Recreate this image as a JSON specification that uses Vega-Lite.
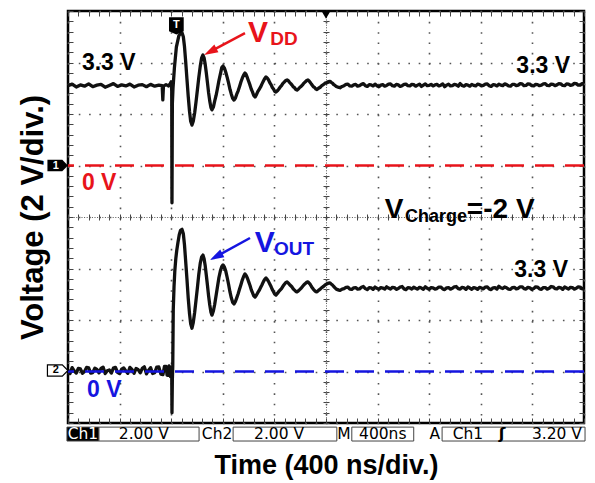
{
  "$schema": "https://vega.github.io/schema/vega-lite/v6.json",
  "width": 516,
  "height": 412,
  "autosize": {"type": "none"},
  "padding": {"left": 68, "top": 11, "right": 11, "bottom": 60},
  "background": "white",
  "config": {
    "view": {"stroke": "black", "strokeWidth": 2.5},
    "axis": {"labels": false, "ticks": false, "domain": false, "grid": false, "tickColor": "#444", "tickWidth": 1}
  },
  "resolve": {"scale": {"x": "independent", "y": "independent", "color": "independent", "fill": "independent", "size": "independent"}},
  "datasets": {
    "vdd": [
      {"t":-800,"v":3.1},{"t":-768,"v":3.16},{"t":-736,"v":3.05},{"t":-704,"v":3.13},{"t":-672,"v":3.08},{"t":-640,"v":3.17},{"t":-608,"v":3.06},{"t":-576,"v":3.12},{"t":-544,"v":3.15},{"t":-512,"v":3.04},{"t":-480,"v":3.11},{"t":-448,"v":3.18},{"t":-416,"v":3.07},{"t":-384,"v":3.13},{"t":-352,"v":3.09},{"t":-320,"v":3.16},{"t":-288,"v":3.05},{"t":-256,"v":3.12},{"t":-224,"v":3.14},{"t":-192,"v":3.06},{"t":-160,"v":3.15},{"t":-128,"v":3.08},{"t":-96,"v":3.12},{"t":-70,"v":3.1},{"t":-65,"v":2.55},{"t":-60,"v":3.08},{"t":-40,"v":3.14},{"t":-20,"v":3.09},{"t":-8,"v":3.18},{"t":0,"v":3.25},{"t":4,"v":2.9},{"t":6,"v":-1.45},{"t":9,"v":2.4},{"t":14,"v":3.0},{"t":25,"v":3.8},{"t":40,"v":4.6},{"t":60,"v":5.05},{"t":72,"v":5.13},{"t":84,"v":5.15},{"t":94,"v":5.0},{"t":103,"v":4.62},{"t":112,"v":4.05},{"t":122,"v":3.36},{"t":132,"v":2.68},{"t":142,"v":2.1},{"t":151,"v":1.72},{"t":161,"v":1.57},{"t":171,"v":1.72},{"t":182,"v":2.05},{"t":192,"v":2.45},{"t":203,"v":2.93},{"t":214,"v":3.42},{"t":225,"v":3.85},{"t":236,"v":4.18},{"t":246,"v":4.29},{"t":255,"v":4.18},{"t":263,"v":3.95},{"t":272,"v":3.6},{"t":281,"v":3.22},{"t":290,"v":2.82},{"t":299,"v":2.5},{"t":308,"v":2.25},{"t":316,"v":2.16},{"t":327,"v":2.27},{"t":337,"v":2.5},{"t":348,"v":2.72},{"t":359,"v":3.0},{"t":370,"v":3.3},{"t":381,"v":3.55},{"t":392,"v":3.8},{"t":402,"v":3.86},{"t":413,"v":3.78},{"t":423,"v":3.62},{"t":434,"v":3.42},{"t":445,"v":3.2},{"t":456,"v":2.95},{"t":466,"v":2.77},{"t":477,"v":2.6},{"t":487,"v":2.54},{"t":498,"v":2.62},{"t":508,"v":2.77},{"t":519,"v":2.9},{"t":530,"v":3.07},{"t":541,"v":3.25},{"t":551,"v":3.39},{"t":562,"v":3.52},{"t":572,"v":3.59},{"t":581,"v":3.53},{"t":591,"v":3.4},{"t":601,"v":3.26},{"t":611,"v":3.12},{"t":621,"v":2.96},{"t":630,"v":2.86},{"t":640,"v":2.72},{"t":650,"v":2.66},{"t":660,"v":2.74},{"t":671,"v":2.87},{"t":682,"v":2.96},{"t":693,"v":3.05},{"t":704,"v":3.17},{"t":714,"v":3.27},{"t":725,"v":3.38},{"t":735,"v":3.44},{"t":744,"v":3.4},{"t":754,"v":3.33},{"t":764,"v":3.22},{"t":774,"v":3.14},{"t":784,"v":3.03},{"t":793,"v":2.97},{"t":803,"v":2.88},{"t":812,"v":2.85},{"t":823,"v":2.9},{"t":833,"v":2.96},{"t":844,"v":3.04},{"t":855,"v":3.1},{"t":866,"v":3.19},{"t":876,"v":3.24},{"t":887,"v":3.3},{"t":898,"v":3.32},{"t":908,"v":3.29},{"t":917,"v":3.23},{"t":927,"v":3.18},{"t":937,"v":3.12},{"t":947,"v":3.05},{"t":956,"v":3.02},{"t":966,"v":2.95},{"t":975,"v":2.93},{"t":986,"v":2.97},{"t":996,"v":3.03},{"t":1007,"v":3.07},{"t":1018,"v":3.13},{"t":1029,"v":3.2},{"t":1040,"v":3.25},{"t":1050,"v":3.3},{"t":1060,"v":3.32},{"t":1069,"v":3.28},{"t":1078,"v":3.22},{"t":1087,"v":3.16},{"t":1095,"v":3.11},{"t":1104,"v":3.05},{"t":1113,"v":3.02},{"t":1122,"v":2.97},{"t":1130,"v":2.95},{"t":1142,"v":3.0},{"t":1155,"v":3.04},{"t":1167,"v":3.1},{"t":1180,"v":3.14},{"t":1193,"v":3.2},{"t":1206,"v":3.22},{"t":1218,"v":3.26},{"t":1231,"v":3.27},{"t":1240,"v":3.23},{"t":1250,"v":3.2},{"t":1260,"v":3.14},{"t":1270,"v":3.11},{"t":1280,"v":3.07},{"t":1290,"v":3.05},{"t":1300,"v":3.03},{"t":1309,"v":3.02},{"t":1325,"v":3.07},
      {"t":1340,"v":3.1},{"t":1355,"v":3.15},{"t":1370,"v":3.16},{"t":1385,"v":3.09},{"t":1400,"v":3.08},{"t":1415,"v":3.13},{"t":1430,"v":3.15},{"t":1445,"v":3.08},{"t":1460,"v":3.1},{"t":1475,"v":3.15},{"t":1490,"v":3.18},{"t":1505,"v":3.1},{"t":1520,"v":3.07},{"t":1535,"v":3.14},{"t":1550,"v":3.13},{"t":1565,"v":3.09},{"t":1580,"v":3.16},{"t":1595,"v":3.1},{"t":1610,"v":3.06},{"t":1625,"v":3.12},{"t":1640,"v":3.14},{"t":1655,"v":3.08},{"t":1670,"v":3.11},{"t":1685,"v":3.16},{"t":1700,"v":3.17},{"t":1715,"v":3.1},{"t":1730,"v":3.08},{"t":1745,"v":3.15},{"t":1760,"v":3.13},{"t":1775,"v":3.07},{"t":1790,"v":3.1},{"t":1805,"v":3.15},{"t":1820,"v":3.16},{"t":1835,"v":3.1},{"t":1850,"v":3.09},{"t":1865,"v":3.15},{"t":1880,"v":3.14},{"t":1895,"v":3.08},{"t":1910,"v":3.12},{"t":1925,"v":3.16},{"t":1940,"v":3.07},{"t":1955,"v":3.12},{"t":1970,"v":3.17},{"t":1985,"v":3.1},{"t":2000,"v":3.11},{"t":2015,"v":3.15},{"t":2030,"v":3.09},{"t":2045,"v":3.13},{"t":2060,"v":3.15},{"t":2075,"v":3.09},{"t":2090,"v":3.12},{"t":2105,"v":3.17},{"t":2120,"v":3.06},{"t":2135,"v":3.12},{"t":2150,"v":3.16},{"t":2165,"v":3.09},{"t":2180,"v":3.1},{"t":2195,"v":3.15},{"t":2210,"v":3.13},{"t":2225,"v":3.08},{"t":2240,"v":3.18},{"t":2255,"v":3.11},{"t":2270,"v":3.08},{"t":2285,"v":3.14},{"t":2300,"v":3.12},{"t":2315,"v":3.08},{"t":2330,"v":3.15},{"t":2345,"v":3.11},{"t":2360,"v":3.09},{"t":2375,"v":3.16},{"t":2390,"v":3.14},{"t":2405,"v":3.09},{"t":2420,"v":3.11},{"t":2435,"v":3.16},{"t":2450,"v":3.17},{"t":2465,"v":3.1},{"t":2480,"v":3.07},{"t":2495,"v":3.14},{"t":2510,"v":3.13},{"t":2525,"v":3.09},{"t":2540,"v":3.16},{"t":2555,"v":3.12},{"t":2570,"v":3.1},{"t":2585,"v":3.17},{"t":2600,"v":3.14},{"t":2615,"v":3.09},{"t":2630,"v":3.08},{"t":2645,"v":3.15},{"t":2660,"v":3.15},{"t":2675,"v":3.1},{"t":2690,"v":3.12},{"t":2705,"v":3.18},{"t":2720,"v":3.17},{"t":2735,"v":3.1},{"t":2750,"v":3.11},{"t":2765,"v":3.17},{"t":2780,"v":3.16},{"t":2795,"v":3.1},{"t":2810,"v":3.09},{"t":2825,"v":3.15},{"t":2840,"v":3.14},{"t":2855,"v":3.1},{"t":2870,"v":3.12},{"t":2885,"v":3.17},{"t":2900,"v":3.18},{"t":2915,"v":3.11},{"t":2930,"v":3.1},{"t":2945,"v":3.16},{"t":2960,"v":3.15},{"t":2975,"v":3.1},{"t":2990,"v":3.13},{"t":3005,"v":3.18},{"t":3020,"v":3.17},{"t":3035,"v":3.11},{"t":3050,"v":3.1},{"t":3065,"v":3.17},{"t":3080,"v":3.16},{"t":3095,"v":3.11},{"t":3110,"v":3.13},{"t":3125,"v":3.19},{"t":3140,"v":3.18},{"t":3155,"v":3.12},{"t":3170,"v":3.12},{"t":3185,"v":3.18},{"t":3200,"v":3.15}
    ],
    "vout": [
      {"t":-800,"v":0.05},{"t":-784,"v":-0.08},{"t":-768,"v":0.15},{"t":-752,"v":0.02},{"t":-736,"v":-0.06},{"t":-720,"v":0.12},{"t":-704,"v":0.1},{"t":-688,"v":-0.07},{"t":-672,"v":0.0},{"t":-656,"v":0.16},{"t":-640,"v":0.14},{"t":-624,"v":-0.06},{"t":-608,"v":-0.04},{"t":-592,"v":0.13},{"t":-576,"v":0.08},{"t":-560,"v":-0.05},{"t":-544,"v":0.12},{"t":-528,"v":0.17},{"t":-512,"v":-0.08},{"t":-496,"v":0.03},{"t":-480,"v":0.06},{"t":-464,"v":-0.06},{"t":-448,"v":0.13},{"t":-432,"v":0.16},{"t":-416,"v":-0.03},{"t":-400,"v":-0.08},{"t":-384,"v":0.09},{"t":-368,"v":0.14},{"t":-352,"v":0.02},{"t":-336,"v":-0.07},{"t":-320,"v":0.16},{"t":-304,"v":0.08},{"t":-288,"v":-0.07},{"t":-272,"v":0.12},{"t":-256,"v":0.07},{"t":-240,"v":-0.05},{"t":-224,"v":0.12},{"t":-208,"v":0.18},{"t":-192,"v":-0.09},{"t":-176,"v":0.04},{"t":-160,"v":0.15},{"t":-144,"v":-0.08},{"t":-128,"v":-0.05},{"t":-112,"v":0.17},{"t":-96,"v":0.18},{"t":-80,"v":-0.1},{"t":-64,"v":-0.12},{"t":-52,"v":0.2},{"t":-40,"v":0.2},{"t":-32,"v":-0.14},{"t":-24,"v":-0.15},{"t":-16,"v":0.22},{"t":-10,"v":0.15},{"t":-5,"v":-0.2},{"t":0,"v":-0.1},{"t":4,"v":0.05},{"t":6,"v":-1.6},{"t":9,"v":-0.3},{"t":12,"v":0.2},{"t":16,"v":2.4},{"t":22,"v":3.3},{"t":28,"v":3.9},{"t":36,"v":4.4},{"t":43,"v":4.7},{"t":52,"v":5.0},{"t":62,"v":5.3},{"t":72,"v":5.48},{"t":84,"v":5.52},{"t":94,"v":5.35},{"t":103,"v":4.92},{"t":112,"v":4.3},{"t":122,"v":3.6},{"t":132,"v":2.85},{"t":142,"v":2.25},{"t":151,"v":1.85},{"t":161,"v":1.68},{"t":171,"v":1.9},{"t":182,"v":2.3},{"t":192,"v":2.75},{"t":203,"v":3.25},{"t":214,"v":3.78},{"t":225,"v":4.2},{"t":236,"v":4.45},{"t":246,"v":4.52},{"t":255,"v":4.38},{"t":263,"v":4.13},{"t":272,"v":3.75},{"t":281,"v":3.35},{"t":290,"v":2.93},{"t":299,"v":2.58},{"t":308,"v":2.3},{"t":316,"v":2.19},{"t":327,"v":2.35},{"t":337,"v":2.6},{"t":348,"v":2.95},{"t":359,"v":3.3},{"t":370,"v":3.65},{"t":381,"v":3.9},{"t":392,"v":4.08},{"t":402,"v":4.14},{"t":413,"v":4.05},{"t":423,"v":3.9},{"t":434,"v":3.65},{"t":445,"v":3.38},{"t":456,"v":3.08},{"t":466,"v":2.86},{"t":477,"v":2.68},{"t":487,"v":2.62},{"t":498,"v":2.72},{"t":508,"v":2.86},{"t":519,"v":3.02},{"t":530,"v":3.2},{"t":541,"v":3.38},{"t":551,"v":3.55},{"t":562,"v":3.7},{"t":572,"v":3.79},{"t":581,"v":3.73},{"t":591,"v":3.62},{"t":601,"v":3.48},{"t":611,"v":3.34},{"t":621,"v":3.17},{"t":630,"v":3.06},{"t":640,"v":2.94},{"t":650,"v":2.89},{"t":660,"v":2.96},{"t":671,"v":3.06},{"t":682,"v":3.15},{"t":693,"v":3.26},{"t":704,"v":3.37},{"t":714,"v":3.48},{"t":725,"v":3.58},{"t":735,"v":3.63},{"t":744,"v":3.58},{"t":754,"v":3.5},{"t":764,"v":3.4},{"t":774,"v":3.3},{"t":784,"v":3.18},{"t":793,"v":3.1},{"t":803,"v":3.0},{"t":812,"v":2.97},{"t":823,"v":3.03},{"t":833,"v":3.1},{"t":844,"v":3.16},{"t":855,"v":3.22},{"t":866,"v":3.31},{"t":876,"v":3.38},{"t":887,"v":3.45},{"t":898,"v":3.48},{"t":908,"v":3.43},{"t":917,"v":3.38},{"t":927,"v":3.33},{"t":937,"v":3.28},{"t":947,"v":3.2},{"t":956,"v":3.16},{"t":966,"v":3.11},{"t":975,"v":3.09},{"t":986,"v":3.13},{"t":996,"v":3.18},{"t":1007,"v":3.23},{"t":1018,"v":3.3},{"t":1029,"v":3.37},{"t":1040,"v":3.42},{"t":1050,"v":3.46},{"t":1060,"v":3.48},{"t":1069,"v":3.43},{"t":1078,"v":3.38},{"t":1087,"v":3.3},{"t":1095,"v":3.24},{"t":1104,"v":3.18},{"t":1113,"v":3.14},{"t":1122,"v":3.1},{"t":1130,"v":3.09},{"t":1142,"v":3.15},{"t":1155,"v":3.2},{"t":1167,"v":3.26},{"t":1180,"v":3.3},{"t":1193,"v":3.36},{"t":1206,"v":3.4},{"t":1218,"v":3.43},{"t":1231,"v":3.44},{"t":1240,"v":3.4},{"t":1250,"v":3.36},{"t":1260,"v":3.3},{"t":1270,"v":3.25},{"t":1280,"v":3.2},{"t":1290,"v":3.18},{"t":1300,"v":3.16},{"t":1309,"v":3.15},{"t":1325,"v":3.2},
      {"t":1340,"v":3.22},{"t":1355,"v":3.27},{"t":1370,"v":3.28},{"t":1385,"v":3.2},{"t":1400,"v":3.19},{"t":1415,"v":3.25},{"t":1430,"v":3.26},{"t":1445,"v":3.2},{"t":1460,"v":3.21},{"t":1475,"v":3.27},{"t":1490,"v":3.3},{"t":1505,"v":3.22},{"t":1520,"v":3.18},{"t":1535,"v":3.26},{"t":1550,"v":3.25},{"t":1565,"v":3.19},{"t":1580,"v":3.28},{"t":1595,"v":3.23},{"t":1610,"v":3.19},{"t":1625,"v":3.26},{"t":1640,"v":3.24},{"t":1655,"v":3.2},{"t":1670,"v":3.29},{"t":1685,"v":3.24},{"t":1700,"v":3.2},{"t":1715,"v":3.27},{"t":1730,"v":3.26},{"t":1745,"v":3.19},{"t":1760,"v":3.22},{"t":1775,"v":3.28},{"t":1790,"v":3.3},{"t":1805,"v":3.21},{"t":1820,"v":3.18},{"t":1835,"v":3.26},{"t":1850,"v":3.25},{"t":1865,"v":3.2},{"t":1880,"v":3.27},{"t":1895,"v":3.23},{"t":1910,"v":3.2},{"t":1925,"v":3.27},{"t":1940,"v":3.24},{"t":1955,"v":3.19},{"t":1970,"v":3.29},{"t":1985,"v":3.23},{"t":2000,"v":3.19},{"t":2015,"v":3.26},{"t":2030,"v":3.25},{"t":2045,"v":3.2},{"t":2060,"v":3.22},{"t":2075,"v":3.28},{"t":2090,"v":3.28},{"t":2105,"v":3.21},{"t":2120,"v":3.18},{"t":2135,"v":3.25},{"t":2150,"v":3.26},{"t":2165,"v":3.2},{"t":2180,"v":3.23},{"t":2195,"v":3.29},{"t":2210,"v":3.3},{"t":2225,"v":3.22},{"t":2240,"v":3.2},{"t":2255,"v":3.27},{"t":2270,"v":3.25},{"t":2285,"v":3.19},{"t":2300,"v":3.28},{"t":2315,"v":3.24},{"t":2330,"v":3.19},{"t":2345,"v":3.26},{"t":2360,"v":3.24},{"t":2375,"v":3.19},{"t":2390,"v":3.27},{"t":2405,"v":3.24},{"t":2420,"v":3.21},{"t":2435,"v":3.28},{"t":2450,"v":3.29},{"t":2465,"v":3.21},{"t":2480,"v":3.18},{"t":2495,"v":3.25},{"t":2510,"v":3.26},{"t":2525,"v":3.2},{"t":2540,"v":3.31},{"t":2555,"v":3.25},{"t":2570,"v":3.22},{"t":2585,"v":3.28},{"t":2600,"v":3.25},{"t":2615,"v":3.2},{"t":2630,"v":3.19},{"t":2645,"v":3.26},{"t":2660,"v":3.27},{"t":2675,"v":3.21},{"t":2690,"v":3.23},{"t":2705,"v":3.29},{"t":2720,"v":3.29},{"t":2735,"v":3.22},{"t":2750,"v":3.2},{"t":2765,"v":3.27},{"t":2780,"v":3.25},{"t":2795,"v":3.19},{"t":2810,"v":3.22},{"t":2825,"v":3.29},{"t":2840,"v":3.28},{"t":2855,"v":3.21},{"t":2870,"v":3.19},{"t":2885,"v":3.26},{"t":2900,"v":3.26},{"t":2915,"v":3.2},{"t":2930,"v":3.23},{"t":2945,"v":3.3},{"t":2960,"v":3.29},{"t":2975,"v":3.22},{"t":2990,"v":3.21},{"t":3005,"v":3.27},{"t":3020,"v":3.25},{"t":3035,"v":3.19},{"t":3050,"v":3.28},{"t":3065,"v":3.24},{"t":3080,"v":3.2},{"t":3095,"v":3.27},{"t":3110,"v":3.26},{"t":3125,"v":3.2},{"t":3140,"v":3.23},{"t":3155,"v":3.29},{"t":3170,"v":3.28},{"t":3185,"v":3.21},{"t":3200,"v":3.24}
    ]
  },
  "layer": [
    {
      "data": {"values": [{"x": 0, "y": 0}]},
      "mark": {"type": "point", "opacity": 0},
      "encoding": {
        "x": {"field": "x", "type": "quantitative", "scale": {"domain": [0, 10], "nice": false, "zero": false},
          "axis": {"orient": "bottom", "grid": true, "tickCount": 10, "gridDash": [1.6, 8.72], "gridColor": "#555", "gridWidth": 1.6,
            "title": "Time (400 ns/div.)", "titleFont": "Liberation Sans", "titleFontSize": 27, "titleFontWeight": "bold", "titleColor": "black", "titlePadding": 29}},
        "y": {"field": "y", "type": "quantitative", "scale": {"domain": [-4, 4], "nice": false, "zero": false},
          "axis": {"orient": "left", "grid": true, "tickCount": 8, "gridDash": [1.6, 8.7], "gridColor": "#555", "gridWidth": 1.6,
            "title": "Voltage (2 V/div.)", "titleFont": "Liberation Sans", "titleFontSize": 31, "titleFontWeight": "bold", "titleColor": "black", "titlePadding": 19}}
      }
    },
    {
      "data": {"values": [{"x": 0, "y": 0}]},
      "mark": {"type": "point", "opacity": 0},
      "encoding": {
        "x": {"field": "x", "type": "quantitative", "scale": {"domain": [0, 10], "nice": false, "zero": false},
          "axis": {"orient": "top", "offset": -5, "ticks": true, "tickSize": 5, "tickCount": 50, "title": null}},
        "y": {"field": "y", "type": "quantitative", "scale": {"domain": [-4, 4], "nice": false, "zero": false},
          "axis": {"orient": "left", "offset": -5, "ticks": true, "tickSize": 5, "tickCount": 40, "title": null}}
      }
    },
    {
      "data": {"values": [{"x": 0, "y": 0}]},
      "mark": {"type": "point", "opacity": 0},
      "encoding": {
        "x": {"field": "x", "type": "quantitative", "scale": {"domain": [0, 10], "nice": false, "zero": false},
          "axis": {"orient": "bottom", "offset": -5, "ticks": true, "tickSize": 5, "tickCount": 50, "title": null}},
        "y": {"field": "y", "type": "quantitative", "scale": {"domain": [-4, 4], "nice": false, "zero": false},
          "axis": {"orient": "right", "offset": -5, "ticks": true, "tickSize": 5, "tickCount": 40, "title": null}}
      }
    },
    {
      "data": {"values": [{"x": 0, "y": 0}]},
      "mark": {"type": "point", "opacity": 0},
      "encoding": {
        "x": {"field": "x", "type": "quantitative", "scale": {"domain": [0, 10], "nice": false, "zero": false},
          "axis": {"orient": "top", "offset": -206, "ticks": true, "tickSize": 3, "tickCount": 50, "domain": true, "domainDash": [1, 1.6], "domainColor": "#555", "domainWidth": 1, "title": null}},
        "y": {"field": "y", "type": "quantitative", "scale": {"domain": [-4, 4], "nice": false, "zero": false},
          "axis": {"orient": "left", "offset": -258, "ticks": true, "tickSize": 3, "tickCount": 40, "domain": true, "domainDash": [1, 1.6], "domainColor": "#555", "domainWidth": 1, "title": null}}
      }
    },
    {
      "data": {"values": [{"x": 0, "y": 0}]},
      "mark": {"type": "point", "opacity": 0},
      "encoding": {
        "x": {"field": "x", "type": "quantitative", "scale": {"domain": [0, 10], "nice": false, "zero": false},
          "axis": {"orient": "bottom", "offset": -206, "ticks": true, "tickSize": 3, "tickCount": 50, "title": null}},
        "y": {"field": "y", "type": "quantitative", "scale": {"domain": [-4, 4], "nice": false, "zero": false},
          "axis": {"orient": "right", "offset": -258, "ticks": true, "tickSize": 3, "tickCount": 40, "title": null}}
      }
    },
    {
      "data": {"name": "vdd"},
      "mark": {"type": "line", "interpolate": "linear", "color": "#111", "strokeWidth": 3.3, "strokeJoin": "round", "clip": true},
      "encoding": {
        "x": {"field": "t", "type": "quantitative", "scale": {"domain": [-800, 3200], "nice": false, "zero": false}, "axis": null},
        "y": {"field": "v", "type": "quantitative", "scale": {"domain": [-10, 6], "nice": false, "zero": false}, "axis": null}
      }
    },
    {
      "data": {"name": "vout"},
      "mark": {"type": "line", "interpolate": "linear", "color": "#111", "strokeWidth": 3.3, "strokeJoin": "round", "clip": true},
      "encoding": {
        "x": {"field": "t", "type": "quantitative", "scale": {"domain": [-800, 3200], "nice": false, "zero": false}, "axis": null},
        "y": {"field": "v", "type": "quantitative", "scale": {"domain": [-2, 14], "nice": false, "zero": false}, "axis": null}
      }
    },
    {
      "data": {"values": [{"v": 0}]},
      "mark": {"type": "rule", "color": "#e8141b", "strokeWidth": 2.5, "strokeDash": [19, 11]},
      "encoding": {
        "y": {"field": "v", "type": "quantitative", "scale": {"domain": [-10, 6], "nice": false, "zero": false}, "axis": null}
      }
    },
    {
      "data": {"values": [{"v": 0}]},
      "mark": {"type": "rule", "color": "#1515e0", "strokeWidth": 2.5, "strokeDash": [19, 11]},
      "encoding": {
        "y": {"field": "v", "type": "quantitative", "scale": {"domain": [-2, 14], "nice": false, "zero": false}, "axis": null}
      }
    },
    {
      "data": {"values": [
        {"x": 3.43, "y": 3.57, "x2": 2.756, "y2": 3.21, "ch": "VDD"},
        {"x": 3.527, "y": -0.408, "x2": 2.87, "y2": -0.769, "ch": "VOUT"}
      ]},
      "mark": {"type": "rule", "strokeWidth": 2.5},
      "encoding": {
        "x": {"field": "x", "type": "quantitative", "scale": {"domain": [0, 10], "nice": false, "zero": false}, "axis": null},
        "y": {"field": "y", "type": "quantitative", "scale": {"domain": [-4, 4], "nice": false, "zero": false}, "axis": null},
        "x2": {"field": "x2"},
        "y2": {"field": "y2"},
        "color": {"field": "ch", "type": "nominal", "scale": {"domain": ["VDD", "VOUT", "none"], "range": ["#e8141b", "#1515e0", "#000000"]}, "legend": null}
      }
    },
    {
      "data": {"values": [
        {"x": 2.756, "y": 3.21, "ch": "VDD"},
        {"x": 2.87, "y": -0.769, "ch": "VOUT"}
      ]},
      "mark": {"type": "point", "shape": "M0,-1L0.62,1L-0.62,1Z", "size": 196, "filled": true, "opacity": 1, "angle": 242},
      "encoding": {
        "x": {"field": "x", "type": "quantitative", "scale": {"domain": [0, 10], "nice": false, "zero": false}, "axis": null},
        "y": {"field": "y", "type": "quantitative", "scale": {"domain": [-4, 4], "nice": false, "zero": false}, "axis": null},
        "color": {"field": "ch", "type": "nominal", "scale": {"domain": ["VDD", "VOUT", "none"], "range": ["#e8141b", "#1515e0", "#000000"]}, "legend": null}
      }
    },
    {
      "data": {"values": [
        {"x": 0.27, "y": 2.85, "text": "3.3 V", "ch": "none", "role": "label"},
        {"x": 0.27, "y": 0.52, "text": "0 V", "ch": "VDD", "role": "label"},
        {"x": 3.49, "y": 3.4, "text": "V", "ch": "VDD", "role": "main"},
        {"x": 3.92, "y": 3.34, "text": "DD", "ch": "VDD", "role": "sub"},
        {"x": 3.62, "y": -0.68, "text": "V", "ch": "VOUT", "role": "main"},
        {"x": 3.99, "y": -0.74, "text": "OUT", "ch": "VOUT", "role": "sub"},
        {"x": 0.37, "y": -3.5, "text": "0 V", "ch": "VOUT", "role": "label"},
        {"x": 6.14, "y": -0.02, "text": "V", "ch": "none", "role": "cmain"},
        {"x": 6.53, "y": -0.1, "text": "Charge", "ch": "none", "role": "csub"},
        {"x": 7.73, "y": -0.02, "text": "=-2 V", "ch": "none", "role": "cmain"}
      ]},
      "mark": {"type": "text", "align": "left", "baseline": "alphabetic", "font": "Liberation Sans", "fontWeight": "bold"},
      "encoding": {
        "x": {"field": "x", "type": "quantitative", "scale": {"domain": [0, 10], "nice": false, "zero": false}, "axis": null},
        "y": {"field": "y", "type": "quantitative", "scale": {"domain": [-4, 4], "nice": false, "zero": false}, "axis": null},
        "text": {"field": "text"},
        "color": {"field": "ch", "type": "nominal", "scale": {"domain": ["VDD", "VOUT", "none"], "range": ["#e8141b", "#1515e0", "#000000"]}, "legend": null},
        "size": {"field": "role", "type": "nominal", "scale": {"type": "ordinal", "domain": ["label", "main", "sub", "cmain", "csub"], "range": [23, 30, 19, 28, 18]}, "legend": null}
      }
    },
    {
      "data": {"values": [
        {"x": 9.73, "y": 2.8, "text": "3.3 V"},
        {"x": 9.69, "y": -1.17, "text": "3.3 V"}
      ]},
      "mark": {"type": "text", "align": "right", "baseline": "alphabetic", "font": "Liberation Sans", "fontWeight": "bold", "fontSize": 23, "color": "black"},
      "encoding": {
        "x": {"field": "x", "type": "quantitative", "scale": {"domain": [0, 10], "nice": false, "zero": false}, "axis": null},
        "y": {"field": "y", "type": "quantitative", "scale": {"domain": [-4, 4], "nice": false, "zero": false}, "axis": null},
        "text": {"field": "text"}
      }
    },
    {
      "data": {"values": [
        {"x": -0.02, "x2": 0.6, "kind": "inv"},
        {"x": 0.6, "x2": 2.54, "kind": "box"},
        {"x": 3.2, "x2": 5.21, "kind": "box"},
        {"x": 5.5, "x2": 6.7, "kind": "box"},
        {"x": 7.25, "x2": 10.02, "kind": "box"}
      ]},
      "mark": {"type": "rect", "stroke": "#444", "strokeWidth": 1},
      "encoding": {
        "x": {"field": "x", "type": "quantitative", "scale": {"domain": [0, 10], "nice": false, "zero": false}, "axis": null},
        "x2": {"field": "x2"},
        "y": {"datum": -4.08, "type": "quantitative", "scale": {"domain": [-4, 4], "nice": false, "zero": false}, "axis": null},
        "y2": {"datum": -4.35},
        "fill": {"field": "kind", "type": "nominal", "scale": {"domain": ["box", "inv"], "range": ["#ffffff", "#000000"]}, "legend": null}
      }
    },
    {
      "data": {"values": [
        {"x": 0.29, "text": "Ch1", "kind": "inv"},
        {"x": 1.47, "text": "2.00 V", "kind": "box"},
        {"x": 2.89, "text": "Ch2", "kind": "box"},
        {"x": 4.09, "text": "2.00 V", "kind": "box"},
        {"x": 5.35, "text": "M", "kind": "box"},
        {"x": 6.1, "text": "400ns", "kind": "box"},
        {"x": 7.11, "text": "A", "kind": "box"},
        {"x": 7.75, "text": "Ch1", "kind": "box"}
      ]},
      "mark": {"type": "text", "align": "center", "baseline": "middle", "font": "DejaVu Sans", "fontSize": 15.5},
      "encoding": {
        "x": {"field": "x", "type": "quantitative", "scale": {"domain": [0, 10], "nice": false, "zero": false}, "axis": null},
        "y": {"datum": -4.214, "type": "quantitative", "scale": {"domain": [-4, 4], "nice": false, "zero": false}, "axis": null},
        "text": {"field": "text"},
        "color": {"field": "kind", "type": "nominal", "scale": {"domain": ["box", "inv"], "range": ["#000000", "#ffffff"]}, "legend": null}
      }
    },
    {
      "data": {"values": [{"x": 8.41, "text": "ʃ"}]},
      "mark": {"type": "text", "align": "center", "baseline": "middle", "font": "DejaVu Sans", "fontSize": 16, "fontWeight": "bold", "color": "black"},
      "encoding": {
        "x": {"field": "x", "type": "quantitative", "scale": {"domain": [0, 10], "nice": false, "zero": false}, "axis": null},
        "y": {"datum": -4.214, "type": "quantitative", "scale": {"domain": [-4, 4], "nice": false, "zero": false}, "axis": null},
        "text": {"field": "text"}
      }
    },
    {
      "data": {"values": [{"x": 9.96, "text": "3.20 V"}]},
      "mark": {"type": "text", "align": "right", "baseline": "middle", "font": "DejaVu Sans", "fontSize": 15.5, "color": "black"},
      "encoding": {
        "x": {"field": "x", "type": "quantitative", "scale": {"domain": [0, 10], "nice": false, "zero": false}, "axis": null},
        "y": {"datum": -4.214, "type": "quantitative", "scale": {"domain": [-4, 4], "nice": false, "zero": false}, "axis": null},
        "text": {"field": "text"}
      }
    },
    {
      "data": {"values": [{"x": -0.2, "y": 1.0}]},
      "mark": {"type": "point", "shape": "M-1,-0.55L0.45,-0.55L1,0L0.45,0.55L-1,0.55Z", "size": 420, "filled": true, "color": "black", "opacity": 1},
      "encoding": {
        "x": {"field": "x", "type": "quantitative", "scale": {"domain": [0, 10], "nice": false, "zero": false}, "axis": null},
        "y": {"field": "y", "type": "quantitative", "scale": {"domain": [-4, 4], "nice": false, "zero": false}, "axis": null}
      }
    },
    {
      "data": {"values": [{"x": -0.2, "y": -2.98}]},
      "mark": {"type": "point", "shape": "M-1,-0.55L0.45,-0.55L1,0L0.45,0.55L-1,0.55Z", "size": 420, "filled": true, "fill": "white", "stroke": "black", "strokeWidth": 1.2, "opacity": 1},
      "encoding": {
        "x": {"field": "x", "type": "quantitative", "scale": {"domain": [0, 10], "nice": false, "zero": false}, "axis": null},
        "y": {"field": "y", "type": "quantitative", "scale": {"domain": [-4, 4], "nice": false, "zero": false}, "axis": null}
      }
    },
    {
      "data": {"values": [{"x": 2.1, "y": 3.71}]},
      "mark": {"type": "point", "shape": "M-0.85,-1L0.85,-1L0.85,0.6L0,1L-0.85,0.6Z", "size": 300, "filled": true, "color": "black", "opacity": 1},
      "encoding": {
        "x": {"field": "x", "type": "quantitative", "scale": {"domain": [0, 10], "nice": false, "zero": false}, "axis": null},
        "y": {"field": "y", "type": "quantitative", "scale": {"domain": [-4, 4], "nice": false, "zero": false}, "axis": null}
      }
    },
    {
      "data": {"values": [{"x": 5.0, "y": 3.93}]},
      "mark": {"type": "point", "shape": "triangle-down", "size": 90, "filled": true, "color": "black", "opacity": 1},
      "encoding": {
        "x": {"field": "x", "type": "quantitative", "scale": {"domain": [0, 10], "nice": false, "zero": false}, "axis": null},
        "y": {"field": "y", "type": "quantitative", "scale": {"domain": [-4, 4], "nice": false, "zero": false}, "axis": null}
      }
    },
    {
      "data": {"values": [
        {"x": -0.235, "y": 1.0, "text": "1", "kind": "inv"},
        {"x": -0.235, "y": -2.98, "text": "2", "kind": "box"},
        {"x": 2.1, "y": 3.72, "text": "T", "kind": "inv"}
      ]},
      "mark": {"type": "text", "align": "center", "baseline": "middle", "font": "Liberation Sans", "fontWeight": "bold", "fontSize": 11},
      "encoding": {
        "x": {"field": "x", "type": "quantitative", "scale": {"domain": [0, 10], "nice": false, "zero": false}, "axis": null},
        "y": {"field": "y", "type": "quantitative", "scale": {"domain": [-4, 4], "nice": false, "zero": false}, "axis": null},
        "text": {"field": "text"},
        "color": {"field": "kind", "type": "nominal", "scale": {"domain": ["box", "inv"], "range": ["#000000", "#ffffff"]}, "legend": null}
      }
    }
  ]
}
